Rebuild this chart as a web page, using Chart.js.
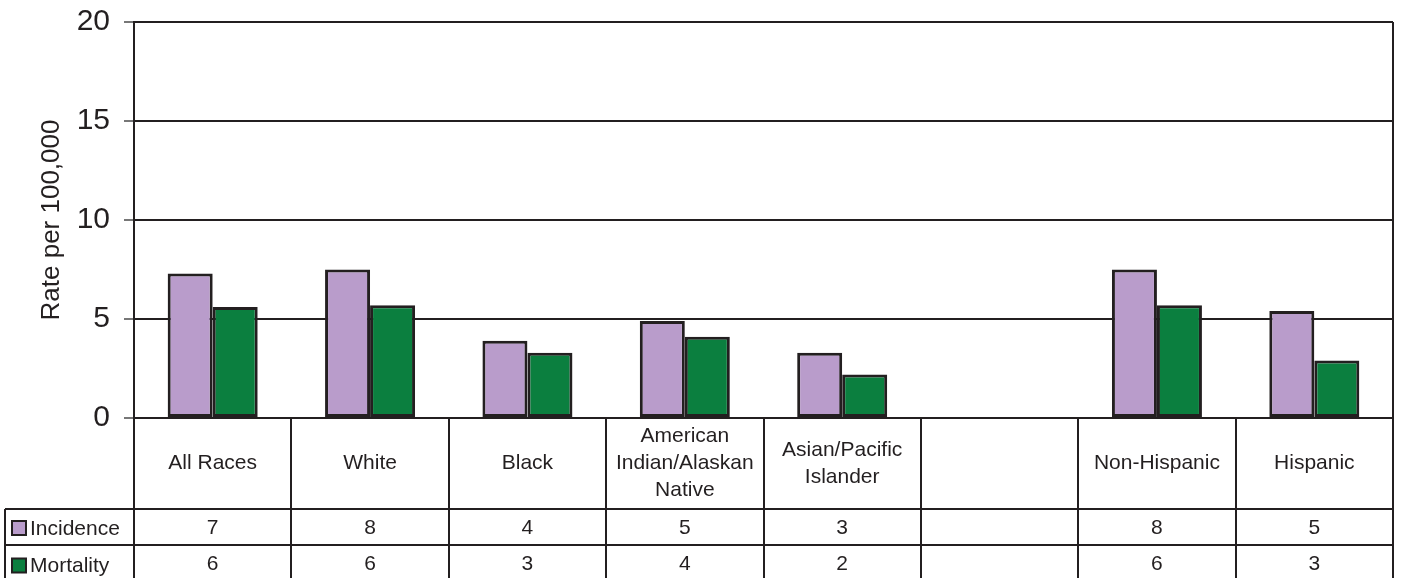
<!DOCTYPE html>
<html>
<head>
<meta charset="utf-8">
<script src="https://cdn.jsdelivr.net/npm/chart.js@4"></script>
<style>
  body { margin: 0; background: #fff; }
  #wrap { width: 1401px; height: 578px; }
</style>
</head>
<body>
<div id="wrap"><canvas id="chart" width="1401" height="578"></canvas></div>
<script>
const categories = [
  "All Races",
  "White",
  "Black",
  ["American", "Indian/Alaskan", "Native"],
  ["Asian/Pacific", "Islander"],
  "",
  "Non-Hispanic",
  "Hispanic",
];
const incidence = [7.3, 7.5, 3.9, 4.9, 3.3, null, 7.5, 5.4];
const mortality = [5.6, 5.7, 3.3, 4.1, 2.2, null, 5.7, 2.9];
const yTicks = [0, 5, 10, 15, 20];

const INK = "#231f20";
const FONT = "'Liberation Sans', Arial, sans-serif";

// draws the data table under the plot (labels row + value rows)
const tablePlugin = {
  id: "table",
  afterDraw(chart) {
    const ctx = chart.ctx;
    const area = chart.chartArea;
    const x = chart.scales.x;
    const n = categories.length;
    const colW = (area.right - area.left) / n;
    const headTop = area.bottom;
    const headBot = headTop + 91;
    const row1Bot = headBot + 36;
    const bottom = chart.height;
    const legendLeft = 5;

    ctx.save();
    ctx.strokeStyle = INK;
    ctx.lineWidth = 2;
    ctx.beginPath();
    // right border of plot
    ctx.moveTo(area.right, area.top);
    ctx.lineTo(area.right, area.bottom);
    // column lines
    for (let i = 0; i <= n; i++) {
      const cx = Math.round(area.left + i * colW);
      ctx.moveTo(cx, headTop);
      ctx.lineTo(cx, bottom);
    }
    ctx.moveTo(legendLeft, headBot);
    ctx.lineTo(legendLeft, bottom);
    ctx.moveTo(legendLeft, headBot);
    ctx.lineTo(area.right, headBot);
    ctx.moveTo(legendLeft, row1Bot);
    ctx.lineTo(area.right, row1Bot);
    ctx.stroke();

    ctx.fillStyle = INK;
    ctx.font = "21px " + FONT;
    ctx.textAlign = "center";
    ctx.textBaseline = "middle";

    categories.forEach((lab, i) => {
      const cx = x.getPixelForValue(i);
      const lines = Array.isArray(lab) ? lab : [lab];
      const lh = 27;
      const y0 = (headTop + headBot) / 2 - (lines.length - 1) * lh / 2;
      lines.forEach((t, j) => ctx.fillText(t, cx, y0 + j * lh));
      if (incidence[i] != null) {
        ctx.fillText(String(Math.round(incidence[i])), cx, (headBot + row1Bot) / 2 + 1);
      }
      if (mortality[i] != null) {
        ctx.fillText(String(Math.round(mortality[i])), cx, (row1Bot + bottom) / 2 + 3);
      }
    });

    // row headers with colour keys
    const rows = [
      { ds: chart.data.datasets[0], y: (headBot + row1Bot) / 2 + 1 },
      { ds: chart.data.datasets[1], y: (row1Bot + bottom) / 2 + 4 },
    ];
    ctx.textAlign = "left";
    rows.forEach(r => {
      ctx.fillStyle = r.ds.backgroundColor;
      ctx.fillRect(12, r.y - 7, 14, 14);
      ctx.strokeRect(12, r.y - 7, 14, 14);
      ctx.fillStyle = INK;
      ctx.fillText(r.ds.label, 30, r.y + 1);
    });
    ctx.restore();
  },
};

new Chart(document.getElementById("chart"), {
  type: "bar",
  data: {
    labels: categories,
    datasets: [
      {
        label: "Incidence",
        data: incidence,
        backgroundColor: "#b99ccb",
        borderColor: INK,
        borderWidth: 3,
        borderSkipped: false,
      },
      {
        label: "Mortality",
        data: mortality,
        backgroundColor: "#0b7f3f",
        borderColor: INK,
        borderWidth: 3,
        borderSkipped: false,
      },
    ],
  },
  options: {
    responsive: false,
    animation: false,
    devicePixelRatio: 1,
    layout: { padding: { top: 22, right: 8, bottom: 160, left: 0 } },
    datasets: { bar: { categoryPercentage: 0.572, barPercentage: 1 } },
    plugins: { legend: { display: false }, tooltip: { enabled: false } },
    scales: {
      x: { display: false },
      y: {
        min: 0,
        max: 20,
        afterFit(scale) {
          scale.width = 134;
          scale.paddingTop = 0;
          scale.paddingBottom = 0;
        },
        afterBuildTicks(scale) { scale.ticks = yTicks.map(v => ({ value: v })); },
        border: { display: true, color: INK, width: 2 },
        grid: { color: INK, lineWidth: 2, tickLength: 10, tickColor: "#777", drawTicks: true },
        ticks: { color: INK, padding: 14, font: { size: 30, family: FONT } },
        title: {
          display: true,
          text: "Rate per 100,000",
          color: INK,
          font: { size: 26, family: FONT },
          padding: { top: 36, bottom: 0 },
        },
      },
    },
  },
  plugins: [tablePlugin],
});
</script>
</body>
</html>
